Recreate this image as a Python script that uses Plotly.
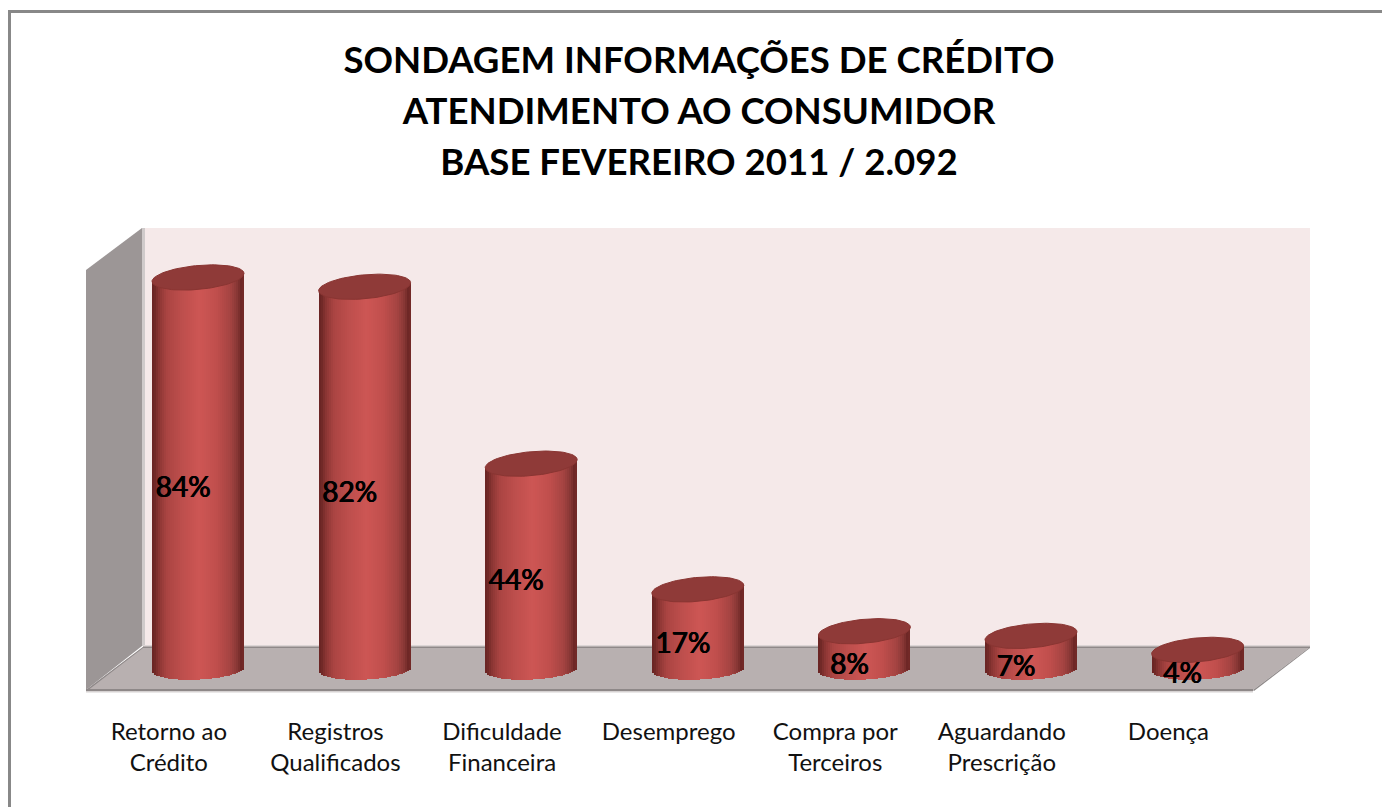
import numpy as np
import plotly.graph_objects as go

# ---- data ----
CATEGORIES = ["Retorno ao<br>Crédito", "Registros<br>Qualificados", "Dificuldade<br>Financeira",
              "Desemprego", "Compra por<br>Terceiros", "Aguardando<br>Prescrição", "Doença"]
VALUES = [84, 82, 44, 17, 8, 7, 4]
LABELS = ["84%", "82%", "44%", "17%", "8%", "7%", "4%"]
TITLE_LINES = ["SONDAGEM INFORMAÇÕES DE CRÉDITO", "ATENDIMENTO AO CONSUMIDOR", "BASE FEVEREIRO 2011 / 2.092"]

# ---- geometry of the page and the pseudo-3D scene (pixels) ----
W, H = 1382, 807
PX_X0, PX_STEP = 198.0, 166.6     # centre of first bar, category spacing
PX_Y0, PX_PCT = 668.5, 4.655      # pixel of value 0, pixels per percent
LEFT, RIGHT, BOTTOM, TOP = 87, 1310, 692, 228
A, B, B_LOW, TILT = 46.0, 12.0, 11.0, 4.0  # ellipse half width, half heights, tilt

x_range = [(LEFT - PX_X0) / PX_STEP, (RIGHT - PX_X0) / PX_STEP]
y_range = [(PX_Y0 - BOTTOM) / PX_PCT, (PX_Y0 - TOP) / PX_PCT]
xs = np.arange(len(VALUES))
vals = np.array(VALUES, dtype=float)

# cylinder shading: position across the bar -> colour
STOPS_T = [0.0, 0.03, 0.08, 0.16, 0.32, 0.52, 0.70, 0.85, 0.93, 0.97, 1.0]
STOPS_RGB = [(104, 36, 35), (112, 40, 38), (140, 54, 52), (170, 68, 66), (189, 78, 76), (205, 86, 84),
             (192, 78, 76), (165, 68, 66), (134, 54, 52), (108, 38, 37), (118, 42, 40)]


def shade(t):
    r, g, b = [np.interp(t, STOPS_T, [c[i] for c in STOPS_RGB]) for i in range(3)]
    return f"rgb({r:.0f},{g:.0f},{b:.0f})"


def px_poly(points):
    path = "M " + " L ".join(f"{x / W:.5f},{1 - y / H:.5f}" for x, y in points) + " Z"
    return path


def poly(points, fill, line=None, lw=0):
    return dict(type="path", xref="paper", yref="paper", path=px_poly(points), fillcolor=fill,
                line=dict(color=line or fill, width=lw), layer="below")


shapes = [
    # outer frame (top and left edges)
    poly([(8, 10), (W, 10), (W, 13), (8, 13)], "#888888"),
    poly([(8, 10), (11, 10), (11, H), (8, H)], "#888888"),
    # back wall
    poly([(143, 228), (1310, 228), (1310, 647), (143, 647)], "#f5e9e9"),
    # left wall
    poly([(86, 270), (142, 228), (142, 646), (86, 690)], "#9c9696"),
    poly([(142, 228), (145, 228), (145, 646), (142, 646)], "#cfcaca"),
    # floor
    poly([(86, 690), (143, 647), (1310, 647), (1253, 690)], "#b8b0b0"),
    poly([(143, 645), (1310, 645), (1310, 647), (143, 647)], "#dcd5d5"),
    poly([(143, 646.5), (1310, 646.5), (1310, 648), (143, 648)], "#8f8989"),
    poly([(86, 689), (1253, 689), (1253, 691), (86, 691)], "#8e8888"),
    poly([(86, 691), (1253, 691), (1253, 692.5), (86, 692.5)], "#d6d2d2"),
    poly([(1253, 690), (1310, 647), (1310, 648), (1254, 691)], "#8e8888"),
    poly([(86, 690), (143, 647), (143, 648), (87, 691)], "#8e8888"),
]

fig = go.Figure()

# cylinder bodies: each one is a stack of thin vertical strips of the same values
N = 46
edges = np.linspace(-1, 1, N + 1)
for k in range(N):
    tl, tr = edges[k], edges[k + 1]
    tm = (tl + tr) / 2
    top = vals + TILT * tm / PX_PCT
    bot = -(B_LOW * np.sqrt(max(1 - tm ** 2, 0)) - TILT * tm * 0.6) / PX_PCT
    over = 0 if k == N - 1 else (tr - tl) * A / PX_STEP
    fig.add_trace(go.Bar(x=xs, y=top - bot, base=bot, offset=tl * A / PX_STEP,
                         width=(tr - tl) * A / PX_STEP + over,
                         marker=dict(color=shade((tm + 1) / 2), line_width=0),
                         hoverinfo="skip", showlegend=False))

# cylinder tops
theta = np.linspace(0, 2 * np.pi, 90)
for i, v in enumerate(VALUES):
    ex = i + A * np.cos(theta) / PX_STEP
    ey = v + (TILT * np.cos(theta) - B * np.sin(theta)) / PX_PCT
    fig.add_trace(go.Scatter(x=ex, y=ey, mode="lines", fill="toself", fillcolor="#8f3a38",
                             line=dict(color="#893532", width=1), hoverinfo="skip", showlegend=False))

# value labels
fig.add_trace(go.Scatter(x=xs - 0.09, y=vals / 2 - 3.65, mode="text", text=LABELS,
                         textposition="middle center", cliponaxis=False,
                         textfont=dict(family="Lato", size=28, color="#000000",
                                       shadow="0.6px 0 0 #000000, -0.4px 0 0 #000000"),
                         hoverinfo="skip", showlegend=False))

title_text = "<br>".join(f'<span style="font-size:36.6px">{t}</span>' for t in TITLE_LINES)

fig.update_layout(
    width=W, height=H, margin=dict(l=0, r=0, t=0, b=0), autosize=False,
    paper_bgcolor="#ffffff", plot_bgcolor="rgba(0,0,0,0)",
    barmode="overlay", bargap=0, shapes=shapes,
    title=dict(text=title_text, x=699 / W, xanchor="center", y=1 - 73 / H, yanchor="top",
               font=dict(family="Lato", size=39.2, color="#000000", weight=700)),
    xaxis=dict(domain=[LEFT / W, RIGHT / W], range=x_range, showgrid=False, zeroline=False, showline=False,
               tickmode="array", tickvals=list(xs - 0.175), ticktext=CATEGORIES,
               ticks="", ticklabelstandoff=23,
               tickfont=dict(family="Lato", size=24, color="#111111")),
    yaxis=dict(domain=[1 - BOTTOM / H, 1 - TOP / H], range=y_range, visible=False, showgrid=False, zeroline=False),
)

fig.write_html("out.html", config={"displayModeBar": False},
               post_script="document.body.style.margin='0';document.body.style.overflow='hidden';")
